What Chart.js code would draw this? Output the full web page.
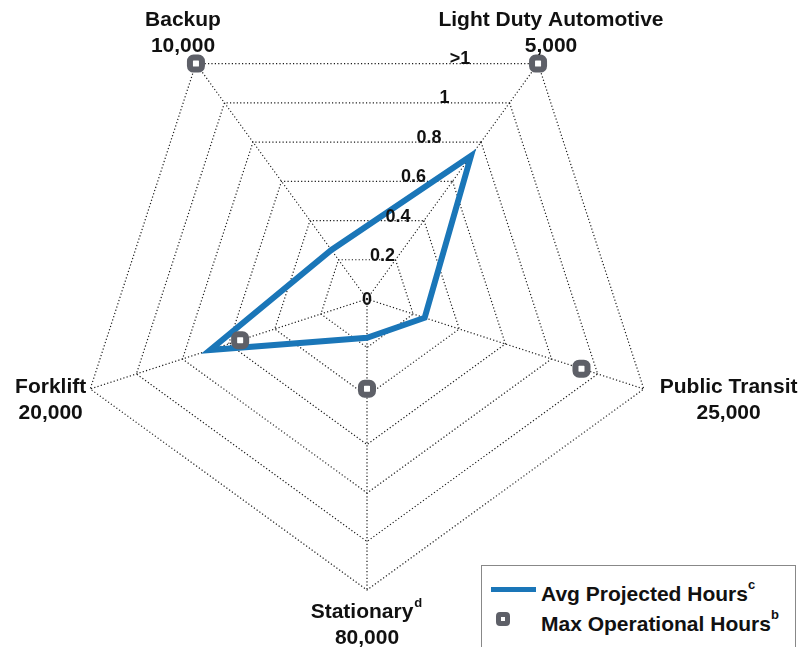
<!DOCTYPE html>
<html>
<head>
<meta charset="utf-8">
<script src="https://cdn.jsdelivr.net/npm/chart.js@4"></script>
<style>
  body { margin: 0; background: #fff; font-family: "Liberation Sans", Arial, sans-serif; }
  #wrap { position: relative; width: 807px; height: 647px; overflow: hidden; }
  #legend {
    position: absolute; left: 481px; top: 565px; width: 313px; height: 100px;
    border: 1px solid #888; background: #fff; font-weight: bold; font-size: 21px; color: #111;
  }
  .row { position: absolute; left: 0; height: 26px; line-height: 26px; white-space: nowrap; }
  .row span.txt { position: absolute; left: 59px; }
  .row sup { font-size: 13px; position: relative; top: -4px; }
  .swatch-line { position: absolute; left: 9px; top: 11px; width: 45px; height: 5px; background: #1a76b8; }
  .swatch-mark { position: absolute; left: 14px; top: 6px; width: 4px; height: 4px; border: 5px solid #5e6068; border-radius: 4px; background: #fff; }
</style>
</head>
<body>
<div id="wrap">
  <canvas id="radar" width="807" height="647"></canvas>
  <div id="legend">
    <div class="row" style="top:10px"><div class="swatch-line"></div><span class="txt">Avg Projected Hours<sup>c</sup></span></div>
    <div class="row" style="top:40px"><div class="swatch-mark"></div><span class="txt">Max Operational Hours<sup>b</sup></span></div>
  </div>
</div>
<script>
// categories (clockwise, starting top-right)
const aplicaciones = ['Light Duty Automotive', 'Public Transit', 'Stationary', 'Forklift', 'Backup'];
const horasMax = ['5,000', '25,000', '80,000', '20,000', '10,000'];
const superindices = ['', '', 'd', '', ''];

// series (fraction of target, >1 shown at 1.2)
const promedioProyectado = [0.73, 0.25, 0.16, 0.68, 0.25];
const maxOperacional = [1.2, 0.93, 0.37, 0.55, 1.2];

// tick labels for 0, 0.2 ... 1.2
const etiquetasTicks = ['0', '0.2', '0.4', '0.6', '0.8', '1', '>1'];

const fuente = '"Liberation Sans", Arial, sans-serif';

const etiquetasPlugin = {
  id: 'etiquetas',
  afterDraw(chart) {
    const r = chart.scales.r;
    const ctx = chart.ctx;
    ctx.save();
    ctx.fillStyle = '#111';

    // tick labels, horizontal, stepping up-right
    ctx.font = 'bold 18px ' + fuente;
    ctx.textAlign = 'center';
    ctx.textBaseline = 'middle';
    r.ticks.forEach((t, i) => {
      const d = r.getDistanceFromCenterForValue(t.value);
      const y = i === 0 ? r.yCenter + 1 : r.yCenter - d * 0.816 - 3;
      ctx.fillText(etiquetasTicks[i], r.xCenter + d * 0.32, y);
    });

    // point labels
    const lineH = 26;
    ctx.textAlign = 'left';
    aplicaciones.forEach((nombre, i) => {
      const ang = (r.getIndexAngle(i) * 180 / Math.PI + 360) % 360;
      const lines = [nombre, horasMax[i]];
      ctx.font = 'bold 21px ' + fuente;
      const supW = superindices[i] ? 10 : 0;
      const widths = lines.map((l, k) => ctx.measureText(l).width + (k === 0 ? supW : 0));
      const blockW = Math.max(...widths);
      let cx, cy; // center of first line
      if (ang < 60 || ang > 300) {
        const p = r.getPointPosition(i, r.drawingArea + 22);
        cx = p.x; cy = p.y - lineH;
      } else if (ang > 160 && ang < 200) {
        const p = r.getPointPosition(i, r.drawingArea + 22);
        cx = p.x; cy = p.y;
      } else if (ang < 180) {
        const p = r.getPointPosition(i, r.drawingArea);
        cx = p.x + 16 + blockW / 2; cy = p.y - 2;
      } else {
        const p = r.getPointPosition(i, r.drawingArea);
        cx = p.x - 4 - blockW / 2; cy = p.y - 2;
      }
      lines.forEach((l, k) => {
        const y = cy + k * lineH;
        const x0 = cx - widths[k] / 2;
        ctx.font = 'bold 21px ' + fuente;
        ctx.fillText(l, x0, y);
        if (k === 0 && superindices[i]) {
          ctx.font = 'bold 13px ' + fuente;
          ctx.fillText(superindices[i], x0 + widths[k] - supW + 1, y - 9);
        }
      });
    });
    ctx.restore();
  }
};

new Chart(document.getElementById('radar'), {
  type: 'radar',
  data: {
    labels: aplicaciones,
    datasets: [{
      label: 'Max Operational Hours',
      data: maxOperacional,
      showLine: false,
      fill: false,
      backgroundColor: 'rgba(0,0,0,0)',
      borderColor: 'rgba(0,0,0,0)',
      pointStyle: 'rectRounded',
      pointRadius: 7,
      pointBorderWidth: 6,
      pointBackgroundColor: '#ffffff',
      pointBorderColor: '#5e6068'
    }, {
      label: 'Avg Projected Hours',
      data: promedioProyectado,
      borderColor: '#1a76b8',
      backgroundColor: 'rgba(0,0,0,0)',
      borderWidth: 6,
      borderJoinStyle: 'miter',
      fill: false,
      pointRadius: 0,
      tension: 0
    }]
  },
  options: {
    responsive: false,
    animation: false,
    layout: { padding: { left: 76, right: 149, top: 8, bottom: 57 } },
    plugins: { legend: { display: false }, tooltip: { enabled: false } },
    scales: {
      r: {
        startAngle: 36,
        min: 0,
        max: 1.2,
        ticks: { stepSize: 0.2, display: false },
        pointLabels: { display: false },
        grid: { color: '#1a1a1a', lineWidth: 1.2 },
        border: { dash: [1.2, 2.2] },
        angleLines: { color: '#1a1a1a', lineWidth: 1.2, borderDash: [1.2, 2.2] }
      }
    }
  },
  plugins: [etiquetasPlugin]
});
</script>
</body>
</html>
